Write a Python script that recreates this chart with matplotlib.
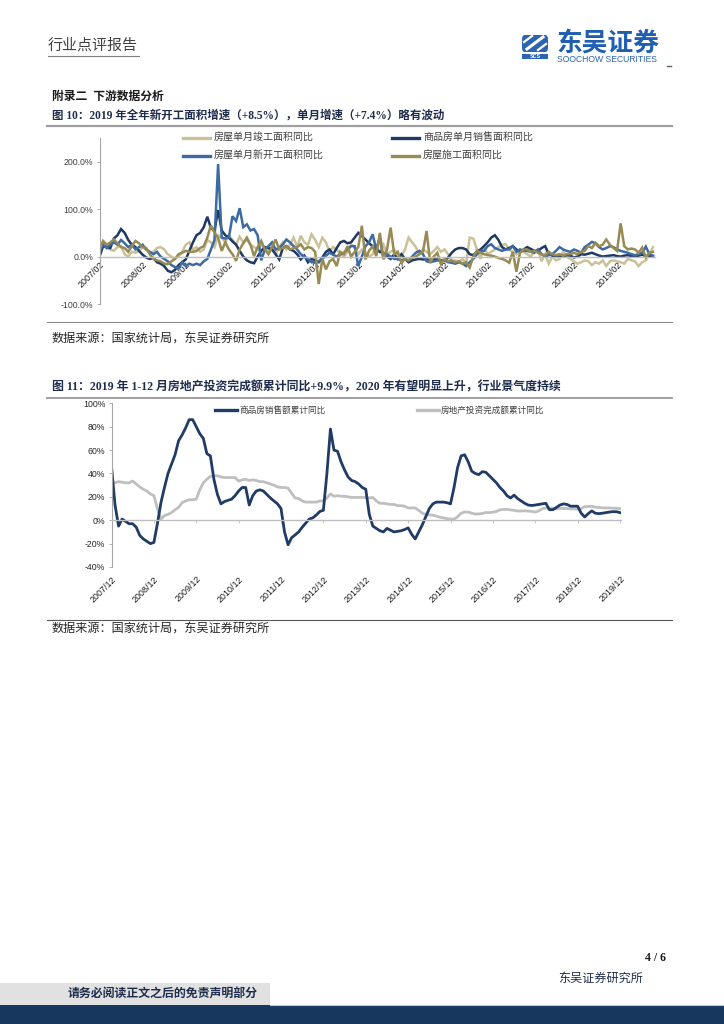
import matplotlib
matplotlib.use("Agg")
import matplotlib.pyplot as plt
from matplotlib.lines import Line2D
from matplotlib.patches import Rectangle, FancyBboxPatch
import numpy as np
import pandas as pd

# ---------------- data: chart 1 (monthly, 2007/02 - 2019/12) ----------------
months1 = pd.date_range("2007-02-01", "2019-12-01", freq="MS")
completed_single = [  # 房屋单月竣工面积同比
    20, 25, 18, 15, 12, 20, 22, 5, 0, 10, 8,
    12, 20, 15, 8, 10, 18, 20, 15, 5, 0, -5, 0,
    10, 25, 30, 15, 20, 10, 15, 35, 30, 20, 45, 40,
    30, 45, 35, 25, 42, 30, 35, 25, 20, 15, 25, 18,
    10, 25, 5, 20, 30, 15, 25, 40, 20, 44, 30, 25,
    47, 35, 20, 40, 30, 10, 20, 15, 5, 0, 10, 25,
    20, 5, 15, 10, 0, 5, 20, 10, 25, 5, 10, 15,
    5, 0, 15, 40, 30, 20, 5, 15, 10, 5, 12, 20,
    10, 15, 5, -10, -8, -12, -5, -15, 40, 38, 15, -5,
    20, 5, 10, 15, 20, 25, 26, 15, 10, 5, 15, 10,
    5, 0, 10, 15, -10, 5, -15, 0, -8, -5, 10, 0,
    -5, -10, -15, -12, -8, -10, -18, -12, -15, -8, -20, -10,
    -8, -10, -12, -15, -5, -8, -10, -20, -12, -8, 5, 20]
sales_area_single = [  # 商品房单月销售面积同比
    0, 22, 20, 18, 38, 45, 58, 50, 35, 25, 20,
    12, 4, -2, -5, -3, -12, -15, -20, -30, -33, -28, -18,
    -12, -6, 12, 30, 45, 50, 62, 84, 60, 55, 98, 55,
    45, 40, 32, 25, 12, 0, -8, -12, -14, 0, 12, 20,
    18, 15, 5, -6, 18, 22, 15, 12, 5, -6, 2, -12,
    -5, -8, -12, -2, 10, 15, 5, 18, 30, 33, 28, 30,
    40, 50, 43, 36, 28, 22, 15, 10, 8, 0, -5, 5,
    -5, 5, -5, -12, -8, -6, -5, -6, -6, -7, -6, -6,
    -8, -9, -2, 8, 15, 18, 18, 15, 5, 3, 10, 15,
    22, 30, 40, 45, 35, 20, 15, 18, 22, 15, 10, 15,
    20, 16, 12, 12, 18, 22, 5, 2, 0, 0, 1, 3,
    2, -2, 0, 5, 4, 6, 8, 5, 2, 0, 1, 2,
    3, 1, 0, 2, 3, 1, 0, 2, 4, 1, 2, 0]
new_start_single = [  # 房屋单月新开工面积同比
    10, 25, 18, 25, 30, 25, 35, 28, 20, 25, 15,
    20, 25, 15, 10, 5, 10, 0, -5, -10, -18, -22, -25,
    -12, -20, -15, -18, -15, -18, -10, -5, 15, 35, 195, 40,
    38, 40, 85, 75, 102, 62, 68, 55, 58, 45, -8, 15,
    22, 30, 15, 18, 26, 36, 30, 22, 15, 5, 0, -5,
    -12, -12, -10, -5, 2, 8, 4, 0, 5, 8, 15, 22,
    22, -20, 0, 22, 30, 47, 15, 40, -5, 5, 0, -5,
    -5, -8, -5, -9, 0, 8, 12, 5, -10, -12, -10, -8,
    -10, -8, -12, -13, -15, -12, -15, -20, -12, -5, 5, 12,
    12, 22, 26, 18, 15, 12, 15, 15, 22, 10, 15, 12,
    12, 10, 8, 15, 5, 0, 3, 5, 12, 20, 15, 12,
    10, 15, 12, 8, 20, 25, 31, 28, 20, 15, 18, 22,
    20, 15, 12, 10, 8, 5, 3, 5, 8, 21, 5, 2]
under_construction = [  # 房屋施工面积同比
    15, 33, 25, 30, 36, 28, 20, 18, 10, 22, 33,
    28, 20, 18, 5, -5, -8, -10, -15, -16, -10, -5, 5,
    8, 12, 10, 10, 12, 18, 22, 40, 66, 50, 40, 12,
    30, 15, 5, -9, 15, 28, 40, 25, 1, 20, 33, 15,
    5, 20, 36, 15, 18, 22, 15, 18, 20, 26, 15, 20,
    18, 10, -58, -5, -27, -10, -5, -20, 10, 5, 22, 0,
    10, 20, 65, -6, 12, 22, 1, 50, -5, 15, 61, 5,
    10, -13, -5, -8, -2, 0, 5, 10, 54, -13, 0, 8,
    -16, -5, -10, -8, -12, -10, -15, -12, -23, 0, 12, 8,
    5, 3, 2, 0, -3, -5, -8, -13, 10, -32, 8, 15,
    15, 10, 12, 8, 5, 2, 10, 5, 3, 5, 2, 5,
    5, 8, 5, 10, 12, 22, 18, 29, 22, 25, 36, 25,
    18, 12, 70, 22, 15, 17, 15, 8, 19, -2, 8, 10]
names1 = ["房屋单月竣工面积同比", "商品房单月销售面积同比",
          "房屋单月新开工面积同比", "房屋施工面积同比"]

# ---------------- data: chart 2 (monthly, 2007/12 - 2019/12) ----------------
months2 = pd.date_range("2007-12-01", "2019-12-01", freq="MS")
sales_value_cum = [  # 商品房销售额累计同比
    46,
    13, -5, 1, -1, -3, -3, -6, -13, -16, -18, -20, -19,
    -3, 15, 28, 40, 48, 56, 68, 73, 79, 86, 86, 80,
    74, 70, 57, 55, 35, 22, 14, 16, 17, 18, 21, 25,
    28, 28, 13, 21, 25, 26, 25, 22, 19, 16.5, 14, 10,
    -10, -21, -15, -12.5, -10, -6, -2.5, 1, 2, 4.5, 7.5, 8.5,
    40, 78, 60, 59, 50, 43, 37, 34, 33, 31, 28, 26.5,
    5, -5, -7, -9, -10, -7, -8.5, -10, -9.5, -9, -8, -6.5,
    -12, -16, -10, -4, 3, 10, 14, 15.5, 15.5, 15.5, 15, 14,
    28, 45, 55, 56, 50, 42, 40, 39, 41.5, 41, 38, 35,
    32, 28, 25, 21, 19, 21.5, 18.5, 16.5, 14.5, 13, 12.6, 13,
    13.5, 14, 14.5, 9, 9, 11, 13, 14, 13.5, 12, 12, 12,
    6, 2.8, 5.6, 8, 6, 5.6, 6, 6.5, 7, 7.3, 7.3, 6.5]
invest_cum = [  # 房地产投资完成额累计同比
    31,
    32, 33, 32.5, 32, 32, 33.5, 31, 28.5, 26.5, 25, 22.5, 21,
    10, 1, 4, 5, 6.5, 9, 11, 15, 16.5, 17.5, 17.5, 18,
    26, 32, 35, 37.5, 38, 38, 37, 36.5, 36.5, 36.5, 36.5, 33.5,
    34.5, 35, 34, 34.5, 34, 33, 33, 32, 31, 30, 28.5, 28,
    28, 27.5, 23, 19, 18.5, 16.5, 15.5, 15.5, 15.5, 15.5, 16.5, 16.5,
    19, 22.5, 20.5, 21, 20.5, 20.5, 20, 19.5, 19.5, 19.5, 19.5, 19.5,
    19, 19.5, 16.5, 14.5, 14.5, 14, 13.5, 13.5, 12.5, 12.5, 12, 10.5,
    10.5, 10.5, 8.5, 6, 5.1, 4.6, 4.3, 3.5, 2.6, 2, 1.3, 1,
    1, 3, 6, 7, 7, 6, 5.3, 5.4, 5.8, 6.6, 6.5, 6.9,
    7.5, 8.9, 9.1, 9.3, 8.8, 8.5, 7.9, 7.9, 8.1, 7.8, 7.5, 7,
    8, 9.9, 10.4, 10.3, 10.2, 9.7, 10.2, 10.1, 9.9, 9.7, 9.7, 9.5,
    10, 11.6, 11.8, 11.9, 11.2, 10.9, 10.6, 10.5, 10.5, 10.3, 10.2, 9.9]
names2 = ["商品房销售额累计同比", "房地产投资完成额累计同比"]

# ---------------- styling ----------------
CJK = ["Noto Sans CJK SC", "DejaVu Sans"]
SERIF = ["Liberation Serif", "Noto Sans CJK SC"]
NUM = ["Liberation Sans", "DejaVu Sans"]
plt.rcParams["font.family"] = CJK

C_TAN, C_NAVY, C_BLUE, C_OLIVE = "#cbc198", "#1f3864", "#3d6aa3", "#978a52"
C2_NAVY, C2_GRAY = "#1f3b66", "#bfbfbf"

W, H = 724, 1024
fig = plt.figure(figsize=(W / 100, H / 100), dpi=100)


def fx(x):
    return x / W


def fy(y):
    return 1 - y / H


def rect(l, t, r, b):
    return [fx(l), fy(b), (r - l) / W, (b - t) / H]


def hline(x0, x1, y, color, lw):
    fig.add_artist(Line2D([fx(x0), fx(x1)], [fy(y), fy(y)], color=color, lw=lw))


# ---------------- header ----------------
fig.text(fx(48), fy(45), "行业点评报告", fontsize=10.8, color="#404040",
         va="center", ha="left", family=CJK)
hline(48, 139, 56, "#7f7f7f", 0.8)

# logo
fig.add_artist(FancyBboxPatch((fx(522), fy(52)), 26 / W, 17 / H,
                              boxstyle="round,pad=0,rounding_size=0.004",
                              transform=fig.transFigure, fc="#2b64b5", ec="none"))
fig.add_artist(Line2D([fx(527), fx(543)], [fy(49), fy(37)], color="white", lw=2.2))
fig.add_artist(Line2D([fx(524), fx(532)], [fy(42), fy(36)], color="white", lw=1.6))
fig.add_artist(Line2D([fx(538), fx(546)], [fy(50), fy(44)], color="white", lw=1.6))
fig.add_artist(Rectangle((fx(522), fy(59)), 26 / W, 5 / H, transform=fig.transFigure,
                         fc="#2b64b5", ec="none"))
fig.text(fx(535), fy(56.5), "SCS", fontsize=3.8, color="white", ha="center",
         va="center", weight="bold", family=NUM)
fig.text(fx(556), fy(43), "东吴证券", fontsize=18.5, color="#1f5eb0", weight="bold",
         ha="left", va="center", family=CJK)
fig.text(fx(557), fy(59), "SOOCHOW SECURITIES", fontsize=6.2, color="#2b64b5",
         ha="left", va="center", family=NUM)
hline(667, 671, 66, "#606060", 1.0)

# ---------------- section titles ----------------
fig.text(fx(52), fy(97), "附录二  下游数据分析", fontsize=8.5, weight="bold",
         color="#1a1a1a", va="center", family=SERIF)
fig.text(fx(52), fy(116), "图 10：2019 年全年新开工面积增速（+8.5%），单月增速（+7.4%）略有波动",
         fontsize=8.3, weight="bold", color="#1f2d4d", va="center", family=SERIF)
hline(47, 672, 126, "#a0a0a0", 1.6)

# ---------------- chart 1 ----------------
ax1 = fig.add_axes(rect(99.5, 138, 655, 304))
x1 = np.arange(len(months1))
series1 = [completed_single, sales_area_single, new_start_single, under_construction]
colors1 = [C_TAN, C_NAVY, C_BLUE, C_OLIVE]
for vals, c in zip(series1, colors1):
    ax1.plot(x1, vals, color=c, lw=1.8, solid_joinstyle="miter")
ax1.set_xlim(0, 154.56)
ax1.set_ylim(-100, 250)
ax1.set_yticks([-100, 0, 100, 200])
ax1.set_yticklabels([f"{v:.1f}%" for v in [-100, 0, 100, 200]])
ax1.set_xticks(x1[::12])
ax1.set_xticklabels([d.strftime("%Y/%m") for d in months1[::12]])
for s in ["top", "right"]:
    ax1.spines[s].set_visible(False)
ax1.spines["left"].set_color("#a6a6a6")
ax1.spines["left"].set_linewidth(0.8)
ax1.spines["bottom"].set_position(("data", 0))
ax1.spines["bottom"].set_color("#bfbfbf")
ax1.spines["bottom"].set_linewidth(1.0)
ax1.tick_params(axis="y", length=2.5, width=0.6, color="#a6a6a6", pad=2,
                labelsize=6.3, labelcolor="#404040")
ax1.tick_params(axis="x", length=0, pad=2.5, labelsize=6.4, labelcolor="#1a1a1a")
for lab in ax1.get_yticklabels() + ax1.get_xticklabels():
    lab.set_family(NUM)
for lab in ax1.get_xticklabels():
    lab.set_rotation(45)
    lab.set_ha("right")
    lab.set_rotation_mode("anchor")
ax1.patch.set_alpha(0)

# legend chart 1 (2 x 2)
leg_pos = [(183, 138), (392, 138), (183, 156), (392, 156)]
for (lx, ly), c, name in zip(leg_pos, colors1, names1):
    fig.add_artist(Line2D([fx(lx), fx(lx + 27)], [fy(ly), fy(ly)], color=c, lw=2.4))
    fig.text(fx(lx + 31), fy(ly), name, fontsize=7.2, color="#404040",
             va="center", ha="left", family=CJK)

hline(47, 672, 322, "#8c8c8c", 0.8)
fig.text(fx(52), fy(338), "数据来源：国家统计局，东吴证券研究所", fontsize=8.7,
         color="#262626", va="center", family=CJK)

# ---------------- chart 2 ----------------
fig.text(fx(52), fy(387),
         "图 11：2019 年 1-12 月房地产投资完成额累计同比+9.9%，2020 年有望明显上升，行业景气度持续",
         fontsize=8.6, weight="bold", color="#1f2d4d", va="center", family=SERIF)
hline(47, 672, 398, "#a0a0a0", 1.4)

ax2 = fig.add_axes(rect(111.5, 403.3, 621, 567))
x2 = np.arange(len(months2))
ax2.plot(x2, invest_cum, color=C2_GRAY, lw=2.0)
ax2.plot(x2, sales_value_cum, color=C2_NAVY, lw=2.0)
ax2.set_xlim(0, 144.28)
ax2.set_ylim(-40, 100)
yt2 = list(range(-40, 101, 20))
ax2.set_yticks(yt2)
ax2.set_yticklabels([f"{v}%" for v in yt2])
for s in ["top", "right"]:
    ax2.spines[s].set_visible(False)
ax2.spines["left"].set_color("#a6a6a6")
ax2.spines["left"].set_linewidth(0.8)
ax2.spines["bottom"].set_position(("data", 0))
ax2.spines["bottom"].set_color("#bfbfbf")
ax2.spines["bottom"].set_linewidth(1.0)
ax2.set_xticks(x2[::12])
ax2.tick_params(axis="x", length=2.5, width=0.6, color="#bfbfbf", labelbottom=False)
ax2.tick_params(axis="y", length=2.5, width=0.6, color="#a6a6a6", pad=2,
                labelsize=6.3, labelcolor="#262626")
for lab in ax2.get_yticklabels():
    lab.set_family(NUM)
sec = ax2.secondary_xaxis("bottom")
sec.set_xticks(x2[::12], [d.strftime("%Y/%m") for d in months2[::12]])
sec.spines["bottom"].set_visible(False)
sec.tick_params(length=0, pad=5.5, labelsize=6.4, labelcolor="#1a1a1a")
for lab in sec.get_xticklabels():
    lab.set_rotation(45)
    lab.set_ha("right")
    lab.set_rotation_mode("anchor")
    lab.set_family(NUM)
ax2.patch.set_alpha(0)

leg2 = [(215, 410, C2_NAVY), (417, 410, C2_GRAY)]
for (lx, ly, c), name in zip(leg2, names2):
    fig.add_artist(Line2D([fx(lx), fx(lx + 22)], [fy(ly), fy(ly)], color=c, lw=2.4))
    fig.text(fx(lx + 24), fy(ly), name, fontsize=6.2, color="#404040",
             va="center", ha="left", family=CJK)

hline(47, 672, 620, "#595959", 0.8)
fig.text(fx(52), fy(628), "数据来源：国家统计局，东吴证券研究所", fontsize=8.7,
         color="#262626", va="center", family=CJK)

# ---------------- footer ----------------
fig.text(fx(666), fy(958), "4 / 6", fontsize=8.5, weight="bold", color="#1a1a1a",
         ha="right", va="center", family=SERIF)
fig.text(fx(643), fy(978), "东吴证券研究所", fontsize=8.7, color="#1f2d4d",
         ha="right", va="center", family=CJK)
fig.add_artist(Rectangle((0, fy(1005)), 270 / W, 22 / H, transform=fig.transFigure,
                         fc="#e1e1e1", ec="none"))
fig.text(fx(258), fy(994), "请务必阅读正文之后的免责声明部分", fontsize=8.6,
         weight="bold", color="#1f2d4d", ha="right", va="center", family=CJK)
fig.add_artist(Rectangle((0, 0), 1, 19 / H, transform=fig.transFigure,
                         fc="#17375e", ec="none"))
hline(270, 724, 1004.5, "#c8c8c8", 0.8)

fig.savefig("out.png", dpi=100)
